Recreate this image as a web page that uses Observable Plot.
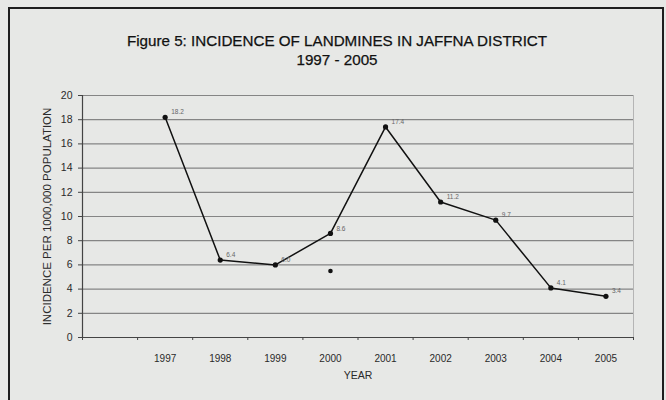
<!DOCTYPE html>
<html><head><meta charset="utf-8">
<script src="https://cdn.jsdelivr.net/npm/d3@7"></script>
<script src="https://cdn.jsdelivr.net/npm/@observablehq/plot@0.6"></script>
<style>
body{margin:0;background:#e7e8e6;}
#wrap{position:relative;width:666px;height:400px;overflow:hidden;background:#e7e8e6;font-family:"Liberation Sans",Arial,sans-serif;}
#box{position:absolute;left:8px;top:7px;width:656px;height:430px;border:2px solid #1e1e1e;box-sizing:border-box;}
.t{position:absolute;left:0;width:674px;text-align:center;color:#111;font-size:15.2px;line-height:16px;-webkit-text-stroke:0.25px #111;}
#chart{position:absolute;left:0;top:0;}
</style></head><body>
<div id="wrap"><div id="box"></div>
<div class="t" style="top:33px">Figure 5: INCIDENCE OF LANDMINES IN JAFFNA DISTRICT</div>
<div class="t" style="top:52px">1997 - 2005</div>
<div id="chart"></div></div>
<script>
const years = [1997, 1998, 1999, 2000, 2001, 2002, 2003, 2004, 2005];
const incidence = [18.2, 6.4, 6.0, 8.6, 17.4, 11.2, 9.7, 4.1, 3.4];
const strayYears = [2000];
const strayValues = [5.5];
const yTicks = [0, 2, 4, 6, 8, 10, 12, 14, 16, 18, 20];
const xTitle = "YEAR";
const yTitle = "INCIDENCE PER 1000,000 POPULATION";

const data = years.map((year, i) => ({year, value: incidence[i]}));
const stray = strayYears.map((year, i) => ({year, value: strayValues[i]}));
const edges = d3.range(years[0] - 1.5, years[years.length - 1] + 1, 1);

const chart = Plot.plot({
  width: 666, height: 400,
  marginLeft: 82, marginRight: 33, marginTop: 95, marginBottom: 63,
  style: {background: "transparent", fontFamily: "Liberation Sans, Arial, sans-serif", color: "#2a2a2a"},
  x: {type: "linear", domain: [edges[0], edges[edges.length - 1]]},
  y: {domain: [0, 20]},
  marks: [
    Plot.gridY(yTicks, {stroke: "#858585", strokeOpacity: 1, strokeWidth: 1.2}),
    Plot.ruleX([edges[edges.length - 1]], {stroke: "#b5b5b5"}),
    Plot.axisY(yTicks, {tickSize: 4, tickPadding: 6, fontSize: 10.5, label: null, stroke: "#444"}),
    Plot.ruleX([edges[0]], {stroke: "#444", strokeWidth: 1.2}),
    Plot.ruleY([0], {stroke: "#444", strokeWidth: 1.2}),
    Plot.axisX(edges, {tickSize: 3, tickFormat: () => "", label: null, stroke: "#444"}),
    Plot.axisX(years, {tickSize: 0, tickPadding: 17, fontSize: 10, tickFormat: d => String(d), label: null}),
    Plot.text([xTitle], {text: d => d, frameAnchor: "bottom", dy: 41, fontSize: 10.5, fill: "#2a2a2a"}),
    Plot.text([yTitle], {text: d => d, frameAnchor: "left", textAnchor: "middle", dx: -35, rotate: -90, fontSize: 11.5, fill: "#2a2a2a"}),
    Plot.line(data, {x: "year", y: "value", stroke: "#111", strokeWidth: 1.5}),
    Plot.dot(data, {x: "year", y: "value", r: 2.6, fill: "#111"}),
    Plot.dot(stray, {x: "year", y: "value", r: 2.3, fill: "#111"}),
    Plot.text(data, {x: "year", y: "value", text: d => d.value.toFixed(1), dx: 6, dy: -5, textAnchor: "start", fontSize: 6.5, fill: "#666"})
  ]
});
document.getElementById("chart").appendChild(chart);
</script>
</body></html>
